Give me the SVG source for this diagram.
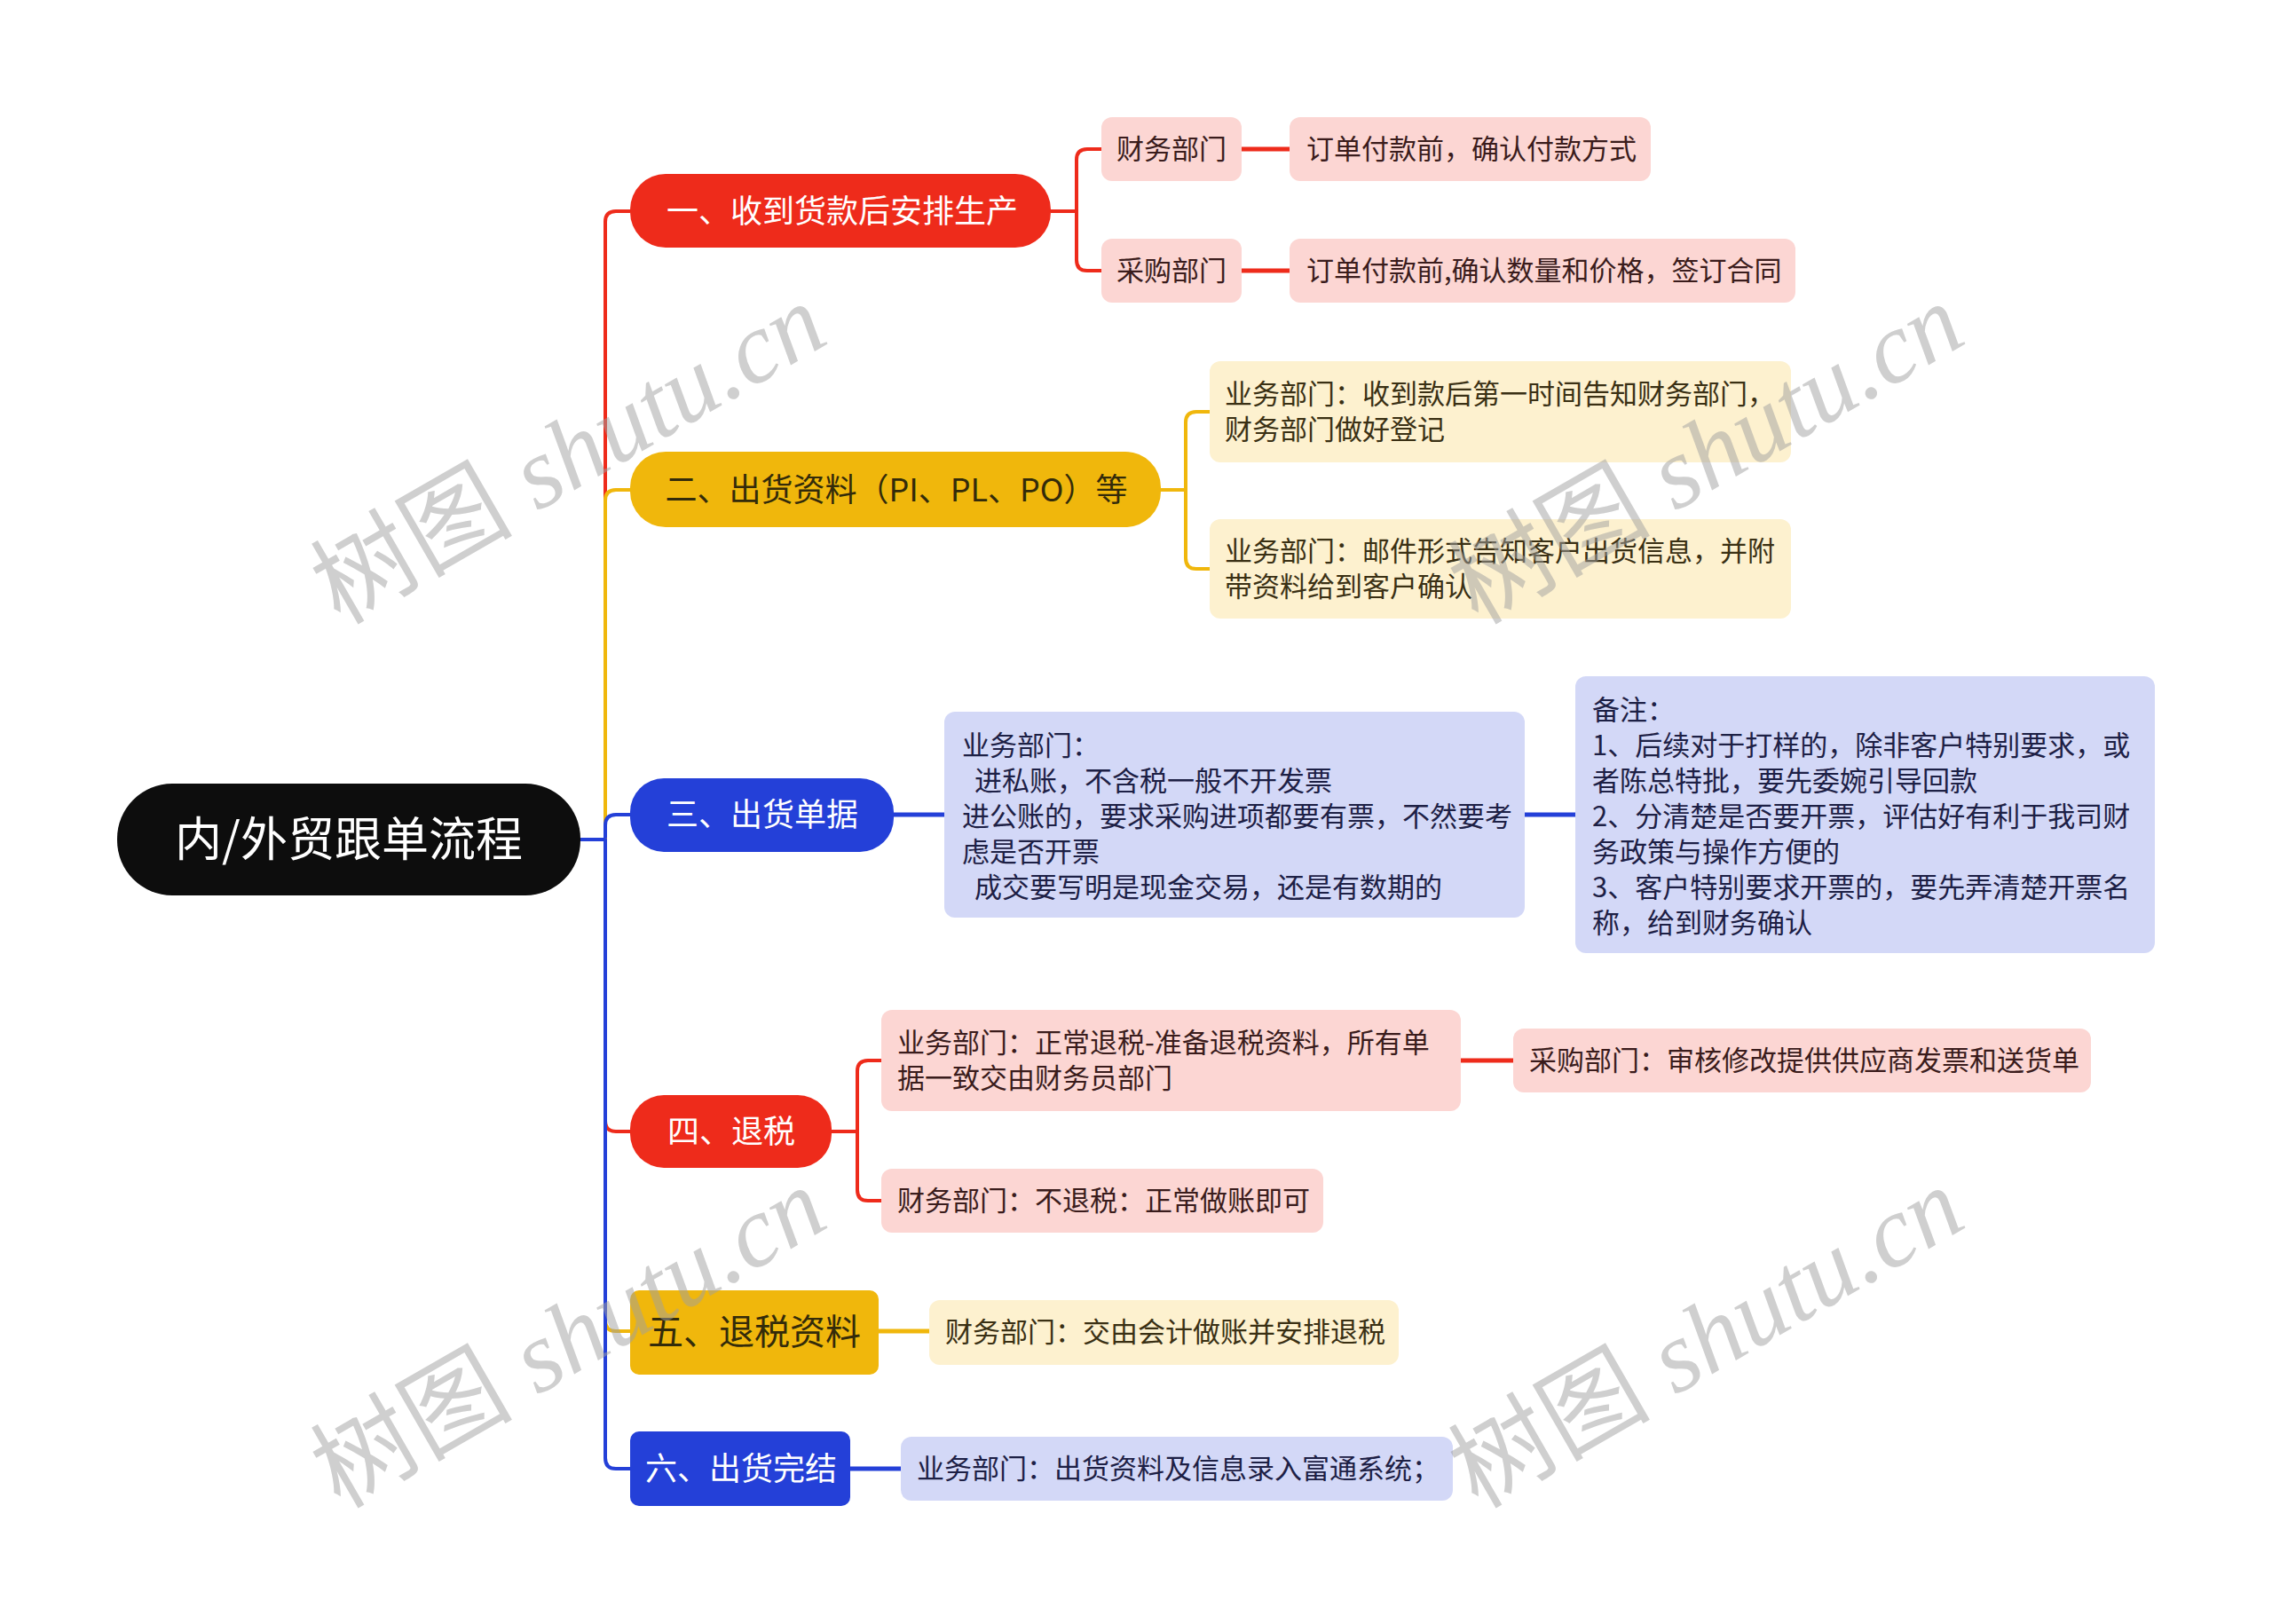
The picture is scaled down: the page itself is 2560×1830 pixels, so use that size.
<svg xmlns="http://www.w3.org/2000/svg" width="2560" height="1830" viewBox="0 0 2560 1830">
<style>
  text { font-family: "Noto Sans CJK SC", "Liberation Sans", sans-serif; }
  .c { fill: none; stroke-width: 4; stroke-linejoin: round; }
  .c2 { fill: none; stroke-width: 5; }
  .r { stroke: #ee2b1b; }
  .y { stroke: #f0b70c; }
  .b { stroke: #2440d8; }
  .l1 { font-size: 36px; text-anchor: middle; }
  .l2 { font-size: 31px; white-space: pre; }
  .wt { fill: #ffffff; }
  .dk { fill: #332b0a; }
  .tr { fill: #3a1c1c; }
  .ty { fill: #3a3014; }
  .tb { fill: #1d2045; }
  .br { fill: #fcd6d3; }
  .by { fill: #fdf1cf; }
  .bb { fill: #d3d8f7; }
  .wm { font-family: "Liberation Serif", "Noto Sans CJK SC", serif; font-size: 114px; fill: #a0a0a0; opacity: 0.5; text-anchor: middle; }
</style>
<rect width="2560" height="1830" fill="#ffffff"/>

<g id="connectors">
  <path class="c r" d="M654,946 H682 V250 Q682,238 694,238 H710"/>
  <path class="c y" d="M654,946 H682 V564 Q682,552 694,552 H710"/>
  <path class="c b" d="M654,946 H682 V930 Q682,918 694,918 H710"/>
  <path class="c r" d="M654,946 H682 V1263 Q682,1275 694,1275 H710"/>
  <path class="c y" d="M654,946 H682 V1488 Q682,1500 694,1500 H710"/>
  <path class="c b" d="M654,946 H682 V1643 Q682,1655 694,1655 H710"/>

  <path class="c r" d="M1184,238 H1213 V180 Q1213,168 1225,168 H1241"/>
  <path class="c r" d="M1184,238 H1213 V293 Q1213,305 1225,305 H1241"/>
  <path class="c2 r" d="M1399,168 H1453"/>
  <path class="c2 r" d="M1399,305 H1453"/>

  <path class="c y" d="M1308,552 H1336 V476 Q1336,464 1348,464 H1363"/>
  <path class="c y" d="M1308,552 H1336 V629 Q1336,641 1348,641 H1363"/>

  <path class="c2 b" d="M1007,918 H1064"/>
  <path class="c2 b" d="M1718,918 H1775"/>

  <path class="c r" d="M937,1275 H966 V1207 Q966,1195 978,1195 H993"/>
  <path class="c r" d="M937,1275 H966 V1341 Q966,1353 978,1353 H993"/>
  <path class="c2 r" d="M1646,1195 H1705"/>

  <path class="c2 y" d="M989,1500 H1047"/>
  <path class="c2 b" d="M958,1655 H1015"/>
</g>

<g id="root">
  <rect x="132" y="883" width="522" height="126" rx="62" fill="#0d0d0d"/>
  <text x="393" y="965" font-size="53" fill="#ffffff" text-anchor="middle">内/外贸跟单流程</text>
</g>

<g id="n1">
  <rect x="710" y="196" width="474" height="83" rx="40" fill="#ee2b1b"/>
  <text class="l1 wt" x="949" y="251">一、收到货款后安排生产</text>
</g>
<g id="n1a">
  <rect class="br" x="1241" y="132" width="158" height="72" rx="12"/>
  <text class="l2 tr" x="1258" y="179">财务部门</text>
</g>
<g id="n1a1">
  <rect class="br" x="1453" y="132" width="407" height="72" rx="12"/>
  <text class="l2 tr" x="1472" y="179">订单付款前，确认付款方式</text>
</g>
<g id="n1b">
  <rect class="br" x="1241" y="269" width="158" height="72" rx="12"/>
  <text class="l2 tr" x="1258" y="316">采购部门</text>
</g>
<g id="n1b1">
  <rect class="br" x="1453" y="269" width="570" height="72" rx="12"/>
  <text class="l2 tr" x="1472" y="316">订单付款前,确认数量和价格，签订合同</text>
</g>

<g id="n2">
  <rect x="710" y="509" width="598" height="85" rx="40" fill="#f0b70c"/>
  <text class="l1 dk" x="1010" y="565">二、出货资料（PI、PL、PO）等</text>
</g>
<g id="n2a">
  <rect class="by" x="1363" y="407" width="655" height="114" rx="12"/>
  <text class="l2 ty" x="1380" y="455">业务部门：收到款后第一时间告知财务部门，</text>
  <text class="l2 ty" x="1380" y="495">财务部门做好登记</text>
</g>
<g id="n2b">
  <rect class="by" x="1363" y="585" width="655" height="112" rx="12"/>
  <text class="l2 ty" x="1380" y="632">业务部门：邮件形式告知客户出货信息，并附</text>
  <text class="l2 ty" x="1380" y="672">带资料给到客户确认</text>
</g>

<g id="n3">
  <rect x="710" y="877" width="297" height="83" rx="38" fill="#2440d8"/>
  <text class="l1 wt" x="859" y="931">三、出货单据</text>
</g>
<g id="n3a">
  <rect class="bb" x="1064" y="802" width="654" height="232" rx="12"/>
  <text class="l2 tb" x="1084" y="851">业务部门：</text>
  <text class="l2 tb" x="1084" y="891">  进私账，不含税一般不开发票</text>
  <text class="l2 tb" x="1084" y="931">进公账的，要求采购进项都要有票，不然要考</text>
  <text class="l2 tb" x="1084" y="971">虑是否开票</text>
  <text class="l2 tb" x="1084" y="1011">  成交要写明是现金交易，还是有数期的</text>
</g>
<g id="n3b">
  <rect class="bb" x="1775" y="762" width="653" height="312" rx="12"/>
  <text class="l2 tb" x="1794" y="811">备注：</text>
  <text class="l2 tb" x="1794" y="851">1、后续对于打样的，除非客户特别要求，或</text>
  <text class="l2 tb" x="1794" y="891">者陈总特批，要先委婉引导回款</text>
  <text class="l2 tb" x="1794" y="931">2、分清楚是否要开票，评估好有利于我司财</text>
  <text class="l2 tb" x="1794" y="971">务政策与操作方便的</text>
  <text class="l2 tb" x="1794" y="1011">3、客户特别要求开票的，要先弄清楚开票名</text>
  <text class="l2 tb" x="1794" y="1051">称，给到财务确认</text>
</g>

<g id="n4">
  <rect x="710" y="1234" width="227" height="82" rx="38" fill="#ee2b1b"/>
  <text class="l1 wt" x="824" y="1288">四、退税</text>
</g>
<g id="n4a">
  <rect class="br" x="993" y="1138" width="653" height="114" rx="12"/>
  <text class="l2 tr" x="1011" y="1186">业务部门：正常退税-准备退税资料，所有单</text>
  <text class="l2 tr" x="1011" y="1226">据一致交由财务员部门</text>
</g>
<g id="n4a1">
  <rect class="br" x="1705" y="1159" width="651" height="72" rx="12"/>
  <text class="l2 tr" x="1723" y="1206">采购部门：审核修改提供供应商发票和送货单</text>
</g>
<g id="n4b">
  <rect class="br" x="993" y="1317" width="498" height="72" rx="12"/>
  <text class="l2 tr" x="1011" y="1364">财务部门：不退税：正常做账即可</text>
</g>

<g id="n5">
  <rect x="710" y="1454" width="280" height="95" rx="10" fill="#f0b70c"/>
  <text x="850" y="1515" font-size="40" class="dk" text-anchor="middle">五、退税资料</text>
</g>
<g id="n5a">
  <rect class="by" x="1047" y="1465" width="529" height="73" rx="12"/>
  <text class="l2 ty" x="1065" y="1512">财务部门：交由会计做账并安排退税</text>
</g>

<g id="n6">
  <rect x="710" y="1613" width="248" height="84" rx="10" fill="#2440d8"/>
  <text class="l1 wt" x="835" y="1668">六、出货完结</text>
</g>
<g id="n6a">
  <rect class="bb" x="1015" y="1619" width="622" height="72" rx="12"/>
  <text class="l2 tb" x="1033" y="1666">业务部门：出货资料及信息录入富通系统；</text>
</g>

<g id="watermarks">
  <text class="wm" transform="translate(660,545) rotate(-30)">树图 <tspan font-style="italic">shutu.cn</tspan></text>
  <text class="wm" transform="translate(1942,545) rotate(-30)">树图 <tspan font-style="italic">shutu.cn</tspan></text>
  <text class="wm" transform="translate(660,1541) rotate(-30)">树图 <tspan font-style="italic">shutu.cn</tspan></text>
  <text class="wm" transform="translate(1942,1541) rotate(-30)">树图 <tspan font-style="italic">shutu.cn</tspan></text>
</g>
</svg>
